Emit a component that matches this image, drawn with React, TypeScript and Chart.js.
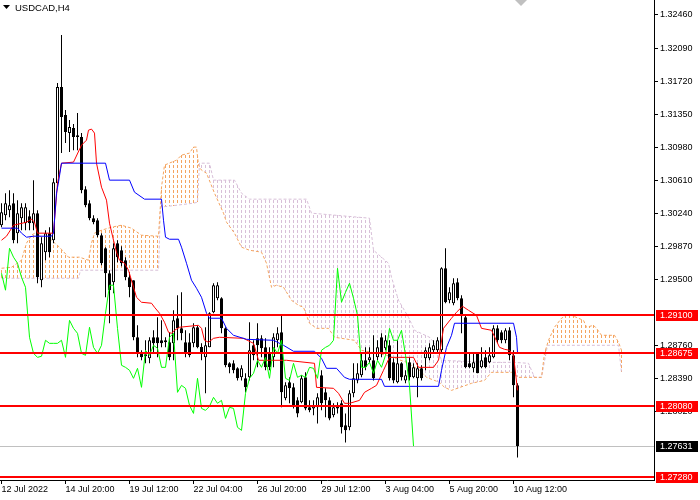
import React, { useEffect, useRef } from 'react';
import { Chart, ChartConfiguration, registerables } from 'chart.js';

Chart.register(...registerables);

// USDCAD H4 candles, one per bar index
const opens = [
  1.30105, 1.30217, 1.30274, 1.30352, 1.30016, 1.30184, 1.30128, 1.30206, 1.30128, 1.3024,
  1.29489, 1.29803, 1.30016, 1.29937, 1.30576, 1.31653, 1.31339, 1.31137, 1.31193, 1.31114,
  1.31092, 1.30509, 1.30352, 1.30184, 1.30161, 1.29993, 1.29847, 1.29567, 1.29466, 1.29904,
  1.29825, 1.29713, 1.29522, 1.29489, 1.2885, 1.2867, 1.28659, 1.28614, 1.2885, 1.2885,
  1.28816, 1.28794, 1.28794, 1.28782, 1.29063, 1.2895, 1.28794, 1.28794, 1.28782, 1.28962,
  1.2874, 1.28625, 1.28737, 1.2913, 1.29287, 1.29287, 1.2895, 1.28558, 1.28558, 1.28502,
  1.28401, 1.2839, 1.28401, 1.2876, 1.28838, 1.28838, 1.28737, 1.2867, 1.28625, 1.28816,
  1.28906, 1.28166, 1.28345, 1.28289, 1.28143, 1.28121, 1.28401, 1.28065, 1.28053, 1.28065,
  1.28424, 1.28233, 1.28143, 1.27975, 1.28087, 1.2811, 1.27863, 1.27841, 1.28222, 1.28367,
  1.28424, 1.28592, 1.28592, 1.28592, 1.28625, 1.2885, 1.28726, 1.2876, 1.28569, 1.28345,
  1.28558, 1.28367, 1.28569, 1.28401, 1.2839, 1.28502, 1.28614, 1.28614, 1.28704, 1.28704,
  1.28704, 1.29623, 1.29264, 1.29231, 1.29466, 1.29287, 1.29074, 1.28558, 1.28502, 1.2867,
  1.28513, 1.28625, 1.28569, 1.28625, 1.2895, 1.28906, 1.28816, 1.28928, 1.28648, 1.28311,
];
const highs = [
  1.30352, 1.30464, 1.30498, 1.30464, 1.30386, 1.30352, 1.30352, 1.30274, 1.3061, 1.30274,
  1.29971, 1.30049, 1.30083, 1.30632, 1.31697, 1.32236, 1.31395, 1.31283, 1.31238, 1.31361,
  1.31137, 1.30543, 1.30386, 1.30217, 1.30184, 1.30016, 1.29859, 1.29601, 1.29904, 1.29937,
  1.2987, 1.29747, 1.29578, 1.29489, 1.28984, 1.28704, 1.28816, 1.2885, 1.28928, 1.29074,
  1.2904, 1.2885, 1.28906, 1.29152, 1.2932, 1.29354, 1.28928, 1.28894, 1.29007, 1.28984,
  1.28782, 1.28962, 1.2913, 1.29455, 1.29466, 1.29298, 1.28962, 1.28569, 1.28592, 1.28513,
  1.28536, 1.28446, 1.29018, 1.28816, 1.29007, 1.28872, 1.28838, 1.28737, 1.28894, 1.28962,
  1.29096, 1.28345, 1.28401, 1.28334, 1.28177, 1.28424, 1.28457, 1.28143, 1.28143, 1.28222,
  1.2848, 1.28278, 1.28177, 1.2811, 1.28121, 1.28143, 1.27997, 1.28255, 1.28558, 1.28558,
  1.2867, 1.28737, 1.28737, 1.28872, 1.28816, 1.28894, 1.28872, 1.28816, 1.28614, 1.28816,
  1.28569, 1.2848, 1.28625, 1.28558, 1.28558, 1.28536, 1.28737, 1.28782, 1.28816, 1.2885,
  1.29634, 1.29847, 1.2941, 1.29511, 1.29511, 1.2932, 1.29096, 1.2867, 1.2867, 1.28681,
  1.28737, 1.28704, 1.28737, 1.28984, 1.28984, 1.28928, 1.2895, 1.28962, 1.28704, 1.28334,
];
const lows = [
  1.30083, 1.30161, 1.30195, 1.29904, 1.29904, 1.30049, 1.30049, 1.30049, 1.30049, 1.29455,
  1.2941, 1.29713, 1.29747, 1.29904, 1.30531, 1.30913, 1.31025, 1.30924, 1.30946, 1.30946,
  1.30464, 1.30307, 1.30161, 1.30117, 1.29971, 1.29657, 1.29298, 1.29007, 1.29343, 1.2969,
  1.29646, 1.29489, 1.29298, 1.28816, 1.28625, 1.28592, 1.28558, 1.28558, 1.2867, 1.28625,
  1.28737, 1.28737, 1.28592, 1.28592, 1.28816, 1.28816, 1.28625, 1.28625, 1.28737, 1.28726,
  1.28592, 1.28222, 1.28737, 1.29119, 1.29264, 1.28894, 1.28513, 1.28446, 1.28446, 1.28367,
  1.28367, 1.28233, 1.28367, 1.28592, 1.28513, 1.28625, 1.2848, 1.2848, 1.28513, 1.28737,
  1.28065, 1.28143, 1.2811, 1.28053, 1.27953, 1.2811, 1.28031, 1.28009, 1.27975, 1.27885,
  1.28031, 1.27953, 1.27919, 1.27953, 1.27997, 1.27773, 1.27672, 1.27807, 1.28177, 1.28334,
  1.28401, 1.2848, 1.28558, 1.28367, 1.28592, 1.28625, 1.28704, 1.28367, 1.28334, 1.28334,
  1.28367, 1.28334, 1.28367, 1.2839, 1.28177, 1.28367, 1.2848, 1.28592, 1.2867, 1.28681,
  1.28681, 1.29231, 1.29231, 1.29208, 1.29264, 1.28894, 1.28502, 1.28502, 1.28457, 1.28446,
  1.28502, 1.28502, 1.28558, 1.28614, 1.28782, 1.28782, 1.28782, 1.28592, 1.28177, 1.27504,
];
const closes = [
  1.30251, 1.30352, 1.3033, 1.29937, 1.3024, 1.30307, 1.30307, 1.30128, 1.3024, 1.29522,
  1.29904, 1.30016, 1.29803, 1.30587, 1.31653, 1.31316, 1.31148, 1.31204, 1.31092, 1.31092,
  1.30498, 1.3033, 1.30184, 1.30139, 1.29993, 1.29679, 1.29567, 1.29377, 1.29847, 1.29747,
  1.29679, 1.29522, 1.2941, 1.2885, 1.2867, 1.28625, 1.28637, 1.28816, 1.28782, 1.28782,
  1.28782, 1.28816, 1.28625, 1.2904, 1.2895, 1.28894, 1.2867, 1.28648, 1.28962, 1.28737,
  1.2867, 1.2876, 1.29119, 1.29433, 1.29433, 1.2895, 1.28536, 1.28513, 1.2848, 1.2839,
  1.28502, 1.28289, 1.28704, 1.28648, 1.2876, 1.28726, 1.28513, 1.28513, 1.2885, 1.28894,
  1.28233, 1.28311, 1.28278, 1.28087, 1.27997, 1.2839, 1.28053, 1.28031, 1.28076, 1.28177,
  1.2811, 1.28143, 1.27941, 1.28065, 1.28053, 1.27841, 1.27807, 1.28222, 1.2839, 1.28446,
  1.28592, 1.28513, 1.28625, 1.2839, 1.28737, 1.2867, 1.28816, 1.2839, 1.28367, 1.28558,
  1.28401, 1.28424, 1.28401, 1.28513, 1.28502, 1.2839, 1.28704, 1.28737, 1.2876, 1.28816,
  1.29623, 1.29242, 1.29354, 1.29455, 1.29287, 1.29096, 1.28513, 1.28513, 1.28569, 1.28446,
  1.28592, 1.28513, 1.28648, 1.2895, 1.28816, 1.28816, 1.28928, 1.28648, 1.28311, 1.27631,
];

// Ichimoku lines, read as vertices (bar index, price)
const tenkanBars = [
  0, 1.25, 3, 6.25, 7.5, 8.25, 9, 13, 14, 15, 18, 20, 21.25, 21.75, 22.5, 23.25, 23.75, 25, 26.25, 27,
  28, 28.75, 29.5, 30.75, 31.75, 33, 33.75, 35, 37.5, 38.25, 39.5, 40.75, 41.75, 42.5, 43.25, 44.5, 49.25, 50, 50.75, 51.75,
  53, 54.5, 60.5, 63, 63.75, 64.25, 71.25, 78.25, 78.75, 83, 84.25, 85.75, 87, 89.5, 90.75, 92.5, 93.75, 95.5, 97, 103,
  104.25, 108, 109.25, 110.5, 112.5, 113.75, 115.25, 116.75, 118.75, 120, 122.5, 124.5, 125.75, 127, 128, 129,
];
const tenkanPrices = [
  1.29937, 1.29982, 1.30105, 1.30139, 1.30173, 1.30139, 1.30016, 1.30016, 1.30576, 1.308,
  1.30812, 1.31002, 1.31058, 1.3117, 1.31182, 1.31137, 1.308, 1.30531, 1.30386, 1.30128,
  1.29937, 1.29803, 1.29713, 1.29679, 1.29601, 1.2941, 1.29298, 1.29242, 1.29231, 1.29186,
  1.29119, 1.29018, 1.28906, 1.28894, 1.28928, 1.28962, 1.28984, 1.2895, 1.28816, 1.28794,
  1.28838, 1.2885, 1.28838, 1.28782, 1.2867, 1.28592, 1.28592, 1.28558, 1.28289, 1.28278,
  1.28222, 1.2811, 1.2811, 1.28143, 1.28233, 1.28278, 1.28311, 1.2848, 1.28625, 1.28625,
  1.28513, 1.28513, 1.28592, 1.2895, 1.29063, 1.2913, 1.29197, 1.29152, 1.29096, 1.2895,
  1.28928, 1.28737, 1.28715, 1.28704, 1.28648, 1.28255,
];
const kijunBars = [
  0, 4, 5, 6.25, 8, 12.5, 13, 13.75, 14.25, 15, 26, 27, 32, 33.25, 35.75, 40, 40.5, 41, 42, 44.25,
  45, 46.25, 47.5, 48.75, 50, 51.25, 52, 55, 56.25, 58, 61.25, 68, 70.5, 73, 78.25, 80, 81.25, 83.75, 85.75, 87,
  95, 95.75, 109.25, 110, 111.25, 112.5, 113.25, 128, 128.75, 129,
];
const kijunPrices = [
  1.30072, 1.30072, 1.30016, 1.29971, 1.29982, 1.29982, 1.30016, 1.30464, 1.30587, 1.308,
  1.308, 1.3061, 1.3061, 1.30475, 1.30397, 1.30397, 1.30161, 1.29971, 1.29948, 1.29948,
  1.29859, 1.29679, 1.29489, 1.29399, 1.29298, 1.29119, 1.29063, 1.29063, 1.2895, 1.28872,
  1.28827, 1.28816, 1.2876, 1.28693, 1.28693, 1.28614, 1.28502, 1.28502, 1.28401, 1.28379,
  1.28379, 1.283, 1.283, 1.2848, 1.28737, 1.28872, 1.29007, 1.29007, 1.2885, 1.28681,
];
const senkouABars = [
  0, 2.5, 5, 6.25, 7.5, 8.75, 10, 12.5, 14.5, 16.75, 19.5, 21.75, 22.5, 23.25, 25, 27.5, 30, 32.5, 35, 39.25,
  40, 40.75, 43.75, 45, 47, 48, 48.75, 49.25, 50, 51.25, 53.25, 55.5, 56.25, 58.25, 60, 62, 65, 66.25, 67.5, 68.75,
  70.5, 72.5, 74.25, 75.5, 77, 78.75, 81.75, 83.25, 88.25, 90, 96.25, 101.25, 104.5, 106.25, 109.5, 110.75, 112.5, 117.5, 120.75, 122.5,
  127.5, 129.25, 135, 135.75, 136.75, 138.25, 140, 141.25, 142.5, 144.25, 145.5, 146.25, 148, 148.75, 150, 153.25, 154.25, 155,
];
const senkouAPrices = [
  1.29623, 1.29634, 1.29713, 1.29904, 1.29993, 1.30027, 1.29971, 1.29937, 1.29859, 1.29747,
  1.29747, 1.29713, 1.29904, 1.30016, 1.30049, 1.30083, 1.30105, 1.30072, 1.29993, 1.29982,
  1.30531, 1.30778, 1.30834, 1.3089, 1.30913, 1.3098, 1.3098, 1.30778, 1.30722, 1.30688,
  1.30464, 1.3024, 1.30139, 1.30016, 1.29859, 1.29825, 1.29803, 1.29679, 1.2941, 1.29433,
  1.2941, 1.29264, 1.29208, 1.29186, 1.29007, 1.2895, 1.2895, 1.2885, 1.28816, 1.28704,
  1.28648, 1.28569, 1.2848, 1.28401, 1.28345, 1.28289, 1.28255, 1.28334, 1.28367, 1.28457,
  1.28457, 1.28401, 1.28401, 1.2867, 1.28816, 1.28962, 1.29063, 1.29096, 1.29096, 1.29063,
  1.2904, 1.28962, 1.28984, 1.2895, 1.28872, 1.28872, 1.28794, 1.28704,
];
const senkouBBars = [
  0, 19.25, 19.75, 39.25, 39.75, 48, 49, 49.5, 52, 53, 58.25, 60, 62, 76.25, 77.5, 92, 93, 95, 96.75, 97.5,
  99.25, 101.75, 103.25, 107, 108.75, 110, 121.75, 128.25, 131.75, 133.25, 135, 136.5, 154.25, 155,
];
const senkouBPrices = [
  1.29511, 1.29511, 1.29601, 1.29601, 1.30307, 1.30352, 1.30363, 1.308, 1.308, 1.3061,
  1.3061, 1.30464, 1.30397, 1.30397, 1.3024, 1.30184, 1.29825, 1.29747, 1.29679, 1.29522,
  1.29264, 1.29074, 1.28928, 1.2885, 1.2876, 1.28592, 1.28569, 1.28569, 1.28558, 1.28401,
  1.28401, 1.2876, 1.2876, 1.28457,
];
const chikouShift = 26;

const levels = [1.291, 1.28675, 1.2808, 1.2728];
const lastPrice = 1.27631;

const priceTicks = [1.3246, 1.3209, 1.3172, 1.3135, 1.3098, 1.3061, 1.3024, 1.2987, 1.295, 1.2876, 1.2839, 1.2802];
const timeTickBars = [0, 16, 32, 48, 64, 80, 96, 112, 128];
const timeTickLabels = [
  '12 Jul 2022', '14 Jul 20:00', '19 Jul 12:00', '22 Jul 04:00', '26 Jul 20:00',
  '29 Jul 12:00', '3 Aug 04:00', '5 Aug 20:00', '10 Aug 12:00',
];

const FONT = '"Liberation Sans", Arial, sans-serif';
const SPAN_A_COLOR = '#F4A460';
const SPAN_B_COLOR = '#D8BFD8';

const toPoints = (bars: number[], prices: number[]) => bars.map((x, k) => ({ x, y: prices[k] }));

// y pixel of a span line at a given x pixel, using the line element's own interpolation
const lineYAt = (line: any, px: number): number | undefined => {
  let p = line.interpolate({ x: px }, 'x');
  if (Array.isArray(p)) p = p[0];
  return p && typeof p.y === 'number' ? p.y : undefined;
};

// MT4-style kumo: a dotted vertical stroke per bar between span A and span B
const kumoPlugin = {
  id: 'kumoHatch',
  beforeDatasetsDraw(chart: any) {
    const { ctx, chartArea, scales } = chart;
    const lineA = chart.getDatasetMeta(0).dataset;
    const lineB = chart.getDatasetMeta(1).dataset;
    if (!lineA || !lineB) return;
    const lastBar = senkouABars[senkouABars.length - 1];
    ctx.save();
    ctx.lineWidth = 1;
    ctx.lineCap = 'butt';
    ctx.setLineDash([3, 2]);
    for (let i = 0; i <= lastBar; i++) {
      const px = scales.x.getPixelForValue(i);
      if (px < chartArea.left || px > chartArea.right) continue;
      const ya = lineYAt(lineA, px);
      const yb = lineYAt(lineB, px);
      if (ya === undefined || yb === undefined) continue;
      const top = Math.round(Math.min(ya, yb));
      const bot = Math.round(Math.max(ya, yb));
      if (bot <= top) continue;
      const x = Math.floor(px) + 0.5;
      ctx.strokeStyle = ya <= yb ? SPAN_A_COLOR : SPAN_B_COLOR;
      ctx.lineDashOffset = top % 5;
      ctx.beginPath();
      ctx.moveTo(x, top);
      ctx.lineTo(x, bot);
      ctx.stroke();
    }
    ctx.restore();
  },
};

const overlayPlugin = {
  id: 'mtOverlay',
  beforeDatasetsDraw(chart: any) {
    const { ctx, chartArea, scales } = chart;
    const y = Math.round(scales.y.getPixelForValue(lastPrice)) + 0.5;
    ctx.save();
    ctx.strokeStyle = '#C0C0C0';
    ctx.lineWidth = 1;
    ctx.beginPath();
    ctx.moveTo(chartArea.left, y);
    ctx.lineTo(chartArea.right, y);
    ctx.stroke();
    ctx.restore();
  },
  afterDatasetsDraw(chart: any) {
    const { ctx, chartArea, scales } = chart;
    ctx.save();
    ctx.fillStyle = '#FF0000';
    levels.forEach((lv) => {
      const y = Math.round(scales.y.getPixelForValue(lv));
      ctx.fillRect(chartArea.left, y - 1, chartArea.right - chartArea.left, 2);
    });
    ctx.restore();
  },
  afterDraw(chart: any) {
    const { ctx, chartArea, scales } = chart;
    ctx.save();
    ctx.font = `9px ${FONT}`;
    ctx.textBaseline = 'middle';
    ctx.textAlign = 'left';
    const box = (price: number, bg: string) => {
      const y = Math.round(scales.y.getPixelForValue(price));
      ctx.fillStyle = bg;
      ctx.fillRect(chartArea.right + 2, y - 5, 42, 11);
      ctx.fillStyle = '#FFFFFF';
      ctx.fillText(price.toFixed(5), chartArea.right + 6, y + 0.5);
    };
    levels.forEach((lv) => box(lv, '#FF0000'));
    box(lastPrice, '#000000');

    // chart shift marker
    const sx = Math.round(scales.x.getPixelForValue(closes.length - 0.25));
    ctx.fillStyle = '#C0C0C0';
    ctx.beginPath();
    ctx.moveTo(sx - 6, 0);
    ctx.lineTo(sx + 6, 0);
    ctx.lineTo(sx, 6);
    ctx.closePath();
    ctx.fill();

    // symbol caption
    ctx.fillStyle = '#000000';
    ctx.beginPath();
    ctx.moveTo(3, 5);
    ctx.lineTo(10, 5);
    ctx.lineTo(6.5, 9);
    ctx.closePath();
    ctx.fill();
    ctx.font = `9.5px ${FONT}`;
    ctx.fillText('USDCAD,H4', 15, 8.5);
    ctx.restore();
  },
};

export default function App() {
  const canvasRef = useRef<HTMLCanvasElement | null>(null);
  const chartRef = useRef<Chart | null>(null);

  useEffect(() => {
    document.body.style.margin = '0';
    if (!canvasRef.current) return;

    const idx = closes.map((_, i) => i);

    const config: ChartConfiguration<any> = {
      type: 'bar',
      data: {
        datasets: [
          {
            type: 'line',
            label: 'Senkou A',
            data: toPoints(senkouABars, senkouAPrices),
            borderColor: SPAN_A_COLOR,
            borderWidth: 1,
            borderDash: [3, 2],
            pointRadius: 0,
            fill: false,
            order: 3,
          },
          {
            type: 'line',
            label: 'Senkou B',
            data: toPoints(senkouBBars, senkouBPrices),
            borderColor: SPAN_B_COLOR,
            borderWidth: 1,
            borderDash: [3, 2],
            pointRadius: 0,
            fill: false,
            order: 4,
          },
          {
            type: 'bar',
            label: 'wicks',
            data: idx.map((i) => ({ x: i, y: [lows[i], highs[i]] })),
            backgroundColor: '#000000',
            borderWidth: 0,
            barThickness: 1,
            grouped: false,
            inflateAmount: 0,
            minBarLength: 1,
            order: 2,
          },
          {
            type: 'bar',
            label: 'bodies',
            data: idx.map((i) => ({ x: i, y: [opens[i], closes[i]] })),
            backgroundColor: idx.map((i) => (closes[i] >= opens[i] ? '#FFFFFF' : '#000000')),
            borderColor: '#000000',
            borderWidth: 1,
            borderSkipped: false,
            barThickness: 3,
            grouped: false,
            inflateAmount: 0,
            minBarLength: 1,
            order: 1,
          },
          {
            type: 'line',
            label: 'Chikou',
            data: closes.slice(chikouShift).map((c, k) => ({ x: k, y: c })),
            borderColor: '#00FF00',
            borderWidth: 1,
            pointRadius: 0,
            fill: false,
            order: 0,
          },
          {
            type: 'line',
            label: 'Kijun',
            data: toPoints(kijunBars, kijunPrices),
            borderColor: '#0000FF',
            borderWidth: 1,
            pointRadius: 0,
            fill: false,
            order: 0,
          },
          {
            type: 'line',
            label: 'Tenkan',
            data: toPoints(tenkanBars, tenkanPrices),
            borderColor: '#FF0000',
            borderWidth: 1,
            pointRadius: 0,
            fill: false,
            order: 0,
          },
        ],
      },
      options: {
        responsive: false,
        animation: false,
        layout: { padding: 0 },
        events: [],
        plugins: {
          legend: { display: false },
          tooltip: { enabled: false },
        },
        scales: {
          x: {
            type: 'linear',
            min: -0.375,
            max: 163.125,
            offset: false,
            grid: { display: true, drawOnChartArea: false, drawTicks: true, tickLength: 4, color: '#000000', offset: false },
            border: { display: true, color: '#000000' },
            ticks: {
              autoSkip: false,
              maxRotation: 0,
              align: 'start',
              padding: 0,
              color: '#000000',
              font: { family: FONT, size: 9 },
              callback: (v: any) => {
                const k = timeTickBars.indexOf(Number(v));
                return k >= 0 ? timeTickLabels[k] : '';
              },
            },
            afterBuildTicks: (scale: any) => {
              scale.ticks = timeTickBars.map((v) => ({ value: v }));
            },
            afterFit: (scale: any) => {
              scale.height = 20;
              scale.paddingLeft = 0;
              scale.paddingRight = 0;
            },
          },
          y: {
            type: 'linear',
            position: 'right',
            min: 1.27251,
            max: 1.32628,
            grid: { display: true, drawOnChartArea: false, drawTicks: true, tickLength: 4, color: '#000000' },
            border: { display: true, color: '#000000' },
            ticks: {
              autoSkip: false,
              padding: 2,
              color: '#000000',
              font: { family: FONT, size: 9 },
              callback: (v: any) => Number(v).toFixed(5),
            },
            afterBuildTicks: (scale: any) => {
              scale.ticks = priceTicks.map((v) => ({ value: v }));
            },
            afterFit: (scale: any) => {
              scale.width = 46;
              scale.paddingTop = 0;
              scale.paddingBottom = 0;
            },
          },
        },
      },
      plugins: [kumoPlugin, overlayPlugin],
    };

    chartRef.current = new Chart(canvasRef.current, config);

    return () => {
      chartRef.current?.destroy();
      chartRef.current = null;
    };
  }, []);

  return (
    <div style={{ width: 700, height: 500, background: '#FFFFFF' }}>
      <canvas ref={canvasRef} width={700} height={500} style={{ display: 'block' }} />
    </div>
  );
}
